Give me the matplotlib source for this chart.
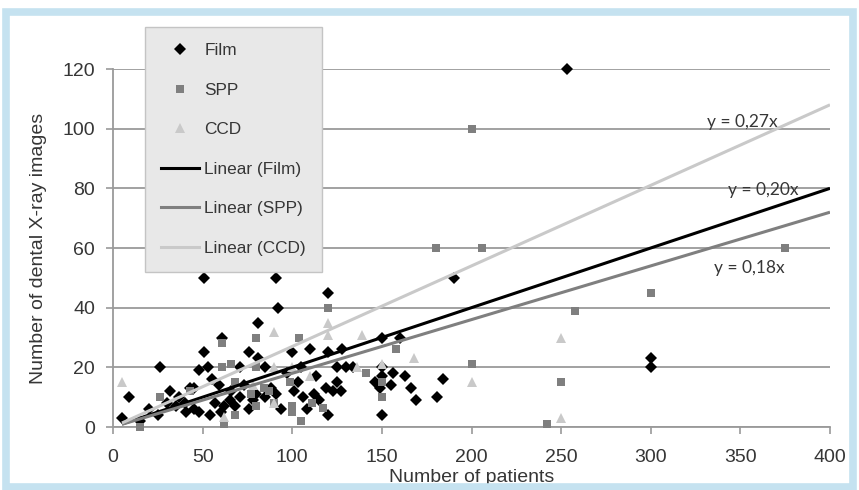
import matplotlib
matplotlib.use("Agg")
import matplotlib.pyplot as plt
from matplotlib.patches import Rectangle
from matplotlib.lines import Line2D
import numpy as np

# ---------------- data ----------------
film_x = [5, 9, 15, 20, 25, 26, 30, 32, 35, 37, 40, 41, 43, 45, 45, 48, 48, 51, 51, 53, 54, 55, 57,
          59, 60, 61, 62, 65, 66, 68, 71, 71, 73, 76, 76, 78, 80, 81, 81, 85, 85, 88, 91, 91, 92,
          94, 97, 100, 101, 103, 105, 106, 108, 110, 112, 113, 115, 119, 120, 120, 120, 123, 125,
          125, 127, 128, 130, 134, 146, 149, 150, 150, 150, 150, 155, 156, 160, 163, 166, 169,
          181, 184, 190, 253, 300, 300]
film_y = [3, 10, 2, 6, 4, 20, 8, 12, 7, 10, 8, 5, 13, 13, 6, 19, 5, 50, 25, 20, 4, 16, 8,
          14, 5, 30, 7, 9, 12, 7, 20, 10, 14, 25, 6, 9, 11, 35, 23, 20, 10, 13, 50, 11, 40,
          6, 18, 25, 12, 15, 20, 10, 6, 26, 11, 17, 9, 13, 45, 25, 4, 12, 20,
          15, 12, 26, 20, 20, 15, 13, 30, 17, 20, 4, 14, 18, 30, 17, 13, 9,
          10, 16, 50, 120, 23, 20]

spp_x = [15, 26, 43, 61, 61, 62, 66, 68, 68, 77, 80, 80, 80, 84, 87, 90, 99, 100, 100, 104,
         105, 111, 117, 120, 141, 150, 150, 158, 180, 200, 200, 206, 242, 250, 258, 300, 375]
spp_y = [0, 10, 12, 28, 20, 1, 21, 15, 4, 11, 30, 20, 7, 13, 12, 8, 15, 7, 5, 30,
         2, 8, 6.5, 40, 18, 15, 10, 26, 60, 100, 21, 60, 1, 15, 39, 45, 60]

ccd_x = [5, 62, 78, 90, 90, 90, 100, 110, 120, 120, 136, 139, 150, 168, 200, 250, 250]
ccd_y = [15, 3.5, 14, 32, 20, 8, 20, 17, 35, 31, 20, 31, 21, 23, 15, 30, 3]

series_names = ["Film", "SPP", "CCD"]
trend_slopes = [0.20, 0.18, 0.27]
trend_labels = ["y = 0,20x", "y = 0,18x", "y = 0,27x"]
trend_label_pos = [(363, 79.5), (355, 53.3), (351, 102.2)]
trend_range = [5, 400]

x_ticks = [0, 50, 100, 150, 200, 250, 300, 350, 400]
y_ticks = [0, 20, 40, 60, 80, 100, 120]

# ---------------- style ----------------
W, H = 859, 490
DPI = 100
fig = plt.figure(figsize=(W / DPI, H / DPI), dpi=DPI)
fig.patch.set_facecolor("white")

# light blue frame
fig.patches.append(Rectangle((6 / W, 3 / H), (W - 12) / W, (H - 15) / H,
                             transform=fig.transFigure, fill=False,
                             edgecolor="#c5e2f0", linewidth=5.5, zorder=0))

ax = fig.add_axes([113 / W, 63 / H, (830 - 113) / W, (427 - 69) / H])
ax.set_facecolor("none")

grid_col = "#9a9a9a"
txt_col = "#363636"
font_main = ["Liberation Sans", "DejaVu Sans"]

colors = ["#000000", "#7f7f7f", "#c9c9c9"]
xs = [film_x, spp_x, ccd_x]
ys = [film_y, spp_y, ccd_y]
markers = ["D", "s", "^"]
msizes = [6.0, 5.5, 7.0]

for x, y, c, m, ms in zip(xs, ys, colors, markers, msizes):
    ax.plot(x, y, linestyle="none", marker=m, markersize=ms, color=c,
            markeredgewidth=0, zorder=3, clip_on=False)

tx = np.array(trend_range, dtype=float)
for slope, c in zip(trend_slopes, colors):
    ax.plot(tx, slope * tx, color=c, linewidth=2.2, zorder=4, solid_capstyle="butt")

for lab, (px, py) in zip(trend_labels, trend_label_pos):
    ax.text(px, py, lab, ha="center", va="center", fontsize=12.5,
            family=["Lato", "DejaVu Sans"], color=txt_col, zorder=5)

ax.set_xlim(0, 400)
ax.set_ylim(0, 120)
ax.set_xticks(x_ticks)
ax.set_yticks(y_ticks)
ax.yaxis.grid(True, color=grid_col, linewidth=1.3, zorder=1)
ax.set_axisbelow(True)
for s in ["top", "right"]:
    ax.spines[s].set_visible(False)
for s in ["left", "bottom"]:
    ax.spines[s].set_color(grid_col)
    ax.spines[s].set_linewidth(1.3)
ax.tick_params(axis="both", colors=grid_col, length=5, width=1.2, direction="out")
ax.tick_params(axis="y", pad=8)
ax.tick_params(axis="x", pad=11)
for lbl in ax.get_xticklabels() + ax.get_yticklabels():
    lbl.set_family(font_main)
    lbl.set_fontsize(14)
    lbl.set_color(txt_col)

ax.set_xlabel("Number of patients", family=font_main, fontsize=14, color=txt_col, labelpad=2)
ax.set_ylabel("Number of dental X-ray images", family=font_main, fontsize=14,
              color=txt_col, labelpad=11)

# legend
handles = [
    Line2D([], [], linestyle="none", marker="D", markersize=6, color=colors[0], markeredgewidth=0),
    Line2D([], [], linestyle="none", marker="s", markersize=5.5, color=colors[1], markeredgewidth=0),
    Line2D([], [], linestyle="none", marker="^", markersize=7, color=colors[2], markeredgewidth=0),
] + [Line2D([], [], color=c, linewidth=2.2) for c in colors]
labels = series_names + ["Linear (%s)" % n for n in series_names]
leg = fig.legend(handles, labels, loc="upper left",
                 bbox_to_anchor=(145 / W, 1 - 27 / H), bbox_transform=fig.transFigure,
                 frameon=True, fancybox=False, framealpha=1, facecolor="#e8e8e8",
                 edgecolor="#c4c4c4", prop={"family": font_main, "size": 12.4},
                 handlelength=2.2, handletextpad=0.3, labelspacing=1.42,
                 borderpad=0.95, borderaxespad=0)
leg.get_frame().set_linewidth(1.0)
for t in leg.get_texts():
    t.set_color(txt_col)
leg.set_zorder(10)

fig.savefig("out.png", dpi=DPI)
